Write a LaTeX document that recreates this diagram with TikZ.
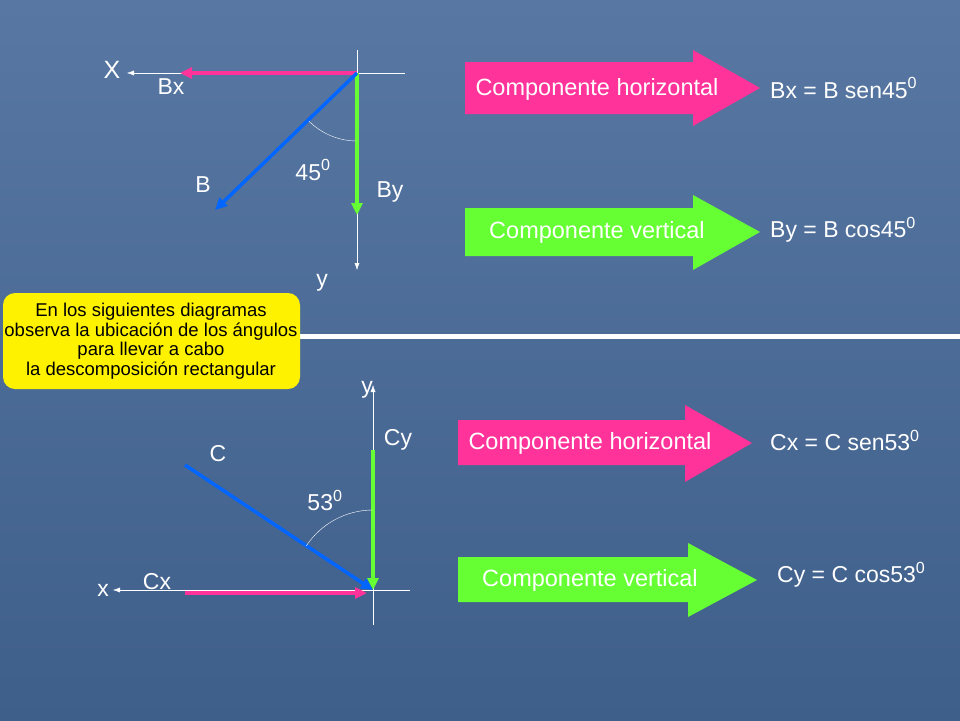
\documentclass[tikz,border=0pt]{standalone}
\usepackage{fontspec}
\setmainfont{Liberation Sans}
\usetikzlibrary{arrows.meta}
\definecolor{bgtop}{HTML}{5878A3}
\definecolor{bgbot}{HTML}{3F5F8B}
\definecolor{vpink}{HTML}{FF3399}
\definecolor{vgreen}{HTML}{66FF33}
\definecolor{vblue}{HTML}{0066FF}
\tikzset{
  axis/.style={white, thin, -{Latex[length=7pt,width=5pt]}},
  vec/.style={line width=3.5pt, -{Triangle[length=12pt,width=11pt]}},
  lbl/.style={white, font=\fontsize{23}{27}\selectfont, inner sep=0pt},
  boxtxt/.style={font=\fontsize{23.5}{27}\selectfont, text=white, inner sep=0pt},
}
\begin{document}
\begin{tikzpicture}[x=1pt, y=-1pt]
  \useasboundingbox (0,0) rectangle (960,720);
  \shade[top color=bgtop, bottom color=bgbot] (0,0) rectangle (960,720);
  % upper diagram
  \coordinate (O1) at (357,73);
  \coordinate (xe1) at (127,73);
  \coordinate (ye1) at (357,270);
  \draw[white, thin] (405,73) -- (O1);
  \draw[white, thin] (357,50) -- (O1);
  \draw[axis] (O1) -- (xe1);
  \draw[axis] (O1) -- (ye1);
  \draw[vec, vpink] (O1) -- (180,73);
  \draw[vec, vgreen] (O1) -- (357,215);
  \draw[vec, vblue] (O1) -- (215,210);
  \draw[white, thin] (O1) ++(135:68) arc (135:90:68);
  \node[lbl, font=\fontsize{25}{28}\selectfont] (X1) at (112,70) {X};
  \node[lbl] (bx) at (171,87) {Bx};
  \node[lbl] (b) at (203,185) {B};
  \node[lbl] (a45) at (313,170) {45\textsuperscript{0}};
  \node[lbl] (by) at (390,192) {By};
  \node[lbl] (y1) at (322,283) {y};
  % lower diagram
  \coordinate (O2) at (373,590);
  \draw[white, thin] (410,590) -- (O2);
  \draw[white, thin] (373,625) -- (O2);
  \draw[axis] (O2) -- (113,590);
  \draw[axis] (O2) -- (373,385);
  \draw[vec, vgreen] (373,450) -- (O2);
  \draw[vec, vpink] (185,593) -- (367,593);
  \draw[vec, vblue] (185,465) -- (O2);
  \draw[white, thin] (O2) ++(213.6:80) arc (213.6:270:80);
  \node[lbl] (c) at (218,454) {C};
  \node[lbl] (cy) at (398,440) {Cy};
  \node[lbl] (a53) at (325,500) {53\textsuperscript{0}};
  \node[lbl] (x2) at (103,590) {x};
  \node[lbl] (cx) at (157,582) {Cx};
  \node[lbl] (y2) at (367,390) {y};
  % separator
  \draw[white, line width=5pt] (300,336) -- (960,336);
  % component arrows
  \fill[vpink] (465,62) -- (693,62) -- (693,50) -- (760,88) -- (693,126) -- (693,114) -- (465,114) -- cycle;
  \fill[vgreen] (465,208) -- (693,208) -- (693,195) -- (760,232) -- (693,270) -- (693,256) -- (465,256) -- cycle;
  \fill[vpink] (458,420) -- (685,420) -- (685,405) -- (752,443) -- (685,482) -- (685,465) -- (458,465) -- cycle;
  \fill[vgreen] (458,557) -- (688,557) -- (688,543) -- (757,580) -- (688,617) -- (688,602) -- (458,602) -- cycle;
  \node[boxtxt] (h1) at (597,89) {Componente horizontal};
  \node[boxtxt] (v1) at (597,232) {Componente vertical};
  \node[boxtxt] (h2) at (590,443) {Componente horizontal};
  \node[boxtxt] (v2) at (590,580) {Componente vertical};
  \node[lbl, anchor=west] (f1) at (770,88) {Bx = B sen45\textsuperscript{0}};
  \node[lbl, anchor=west] (f2) at (770,230) {By = B cos45\textsuperscript{0}};
  \node[lbl, anchor=west] (f3) at (770,440) {Cx = C sen53\textsuperscript{0}};
  \node[lbl, anchor=west] (f4) at (777,575) {Cy = C cos53\textsuperscript{0}};
  % note
  \fill[yellow, rounded corners=12pt] (3,293) rectangle (300,389);
  \node[font=\fontsize{18.5}{19.5}\selectfont, align=center, inner sep=0pt] (note) at (151,341)
    {En los siguientes diagramas\\observa la ubicación de los ángulos\\para llevar a cabo\\la descomposición rectangular};
\end{tikzpicture}
\end{document}
